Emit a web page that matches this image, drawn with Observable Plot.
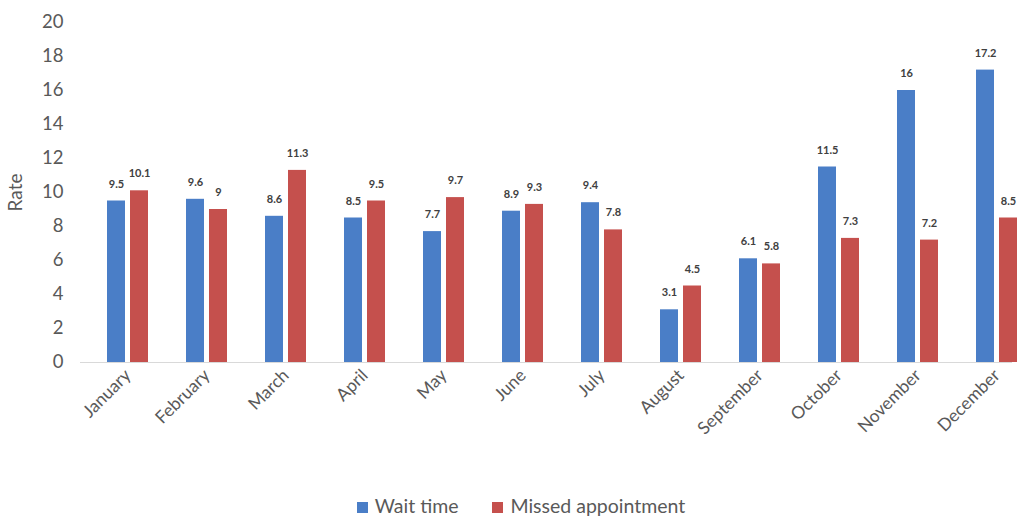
<!DOCTYPE html>
<html><head><meta charset="utf-8">
<script src="https://cdn.jsdelivr.net/npm/d3@7"></script>
<script src="https://cdn.jsdelivr.net/npm/@observablehq/plot@0.6"></script>
<style>
body{margin:0;background:#fff;font-family:Lato,"Open Sans",sans-serif;}
#legend{display:flex;justify-content:center;align-items:center;gap:34px;margin-top:5px;font-size:19.5px;color:#595959;line-height:22px;padding-left:20px;}
#legend span.sw{display:inline-block;width:11px;height:11px;margin-right:7px;vertical-align:0px;}
</style></head><body>
<div id="chart"></div>
<div id="legend"></div>
<script>
const months = ["January","February","March","April","May","June","July","August","September","October","November","December"];
const seriesNames = ["Wait time","Missed appointment"];
const waitTime = [9.5,9.6,8.6,8.5,7.7,8.9,9.4,3.1,6.1,11.5,16,17.2];
const missed = [10.1,9,11.3,9.5,9.7,9.3,7.8,4.5,5.8,7.3,7.2,8.5];
const yTicks = [0,2,4,6,8,10,12,14,16,18,20];
const colors = ["#4A7EC7","#C5504D"];

const waitData = months.map((m,i)=>({month:m, value:waitTime[i]}));
const missedData = months.map((m,i)=>({month:m, value:missed[i]}));

const plot = Plot.plot({
  width: 1022,
  height: 490,
  marginLeft: 80,
  marginRight: 10,
  marginTop: 22,
  marginBottom: 128,
  style: {fontFamily: "Lato, 'Open Sans', sans-serif"},
  x: {domain: months, range: [85, 1039], paddingInner: 0.478, paddingOuter: 0.239},
  y: {domain: [0, 20]},
  marks: [
    Plot.ruleY([0], {stroke: "#d9d9d9", strokeWidth: 1}),
    Plot.barY(waitData, {x: "month", y: "value", fill: colors[0], insetRight: 23}),
    Plot.barY(missedData, {x: "month", y: "value", fill: colors[1], insetLeft: 23}),
    Plot.text(waitData, {x: "month", y: "value", text: d => String(d.value), dx: -11.5, dy: -17, fontSize: 11, fontWeight: "bold", fill: "#404040"}),
    Plot.text(missedData, {x: "month", y: "value", text: d => String(d.value), dx: 11.5, dy: -17, fontSize: 11, fontWeight: "bold", fill: "#404040"}),
    Plot.axisY({ticks: yTicks, tickSize: 0, tickPadding: 17, fontSize: 18.5, color: "#595959", label: null}),
    Plot.axisY({ticks: [], tickSize: 0, fontSize: 19, color: "#595959", label: "Rate", labelAnchor: "center", labelArrow: "none", labelOffset: 72}),
    Plot.axisX({tickRotate: -45, tickSize: 0, tickPadding: 10, fontSize: 17.5, color: "#595959", label: null})
  ]
});
document.getElementById("chart").appendChild(plot);

const legend = document.getElementById("legend");
seriesNames.forEach((n,i)=>{
  const item = document.createElement("div");
  item.innerHTML = `<span class="sw" style="background:${colors[i]}"></span>${n}`;
  legend.appendChild(item);
});
</script>
</body></html>
